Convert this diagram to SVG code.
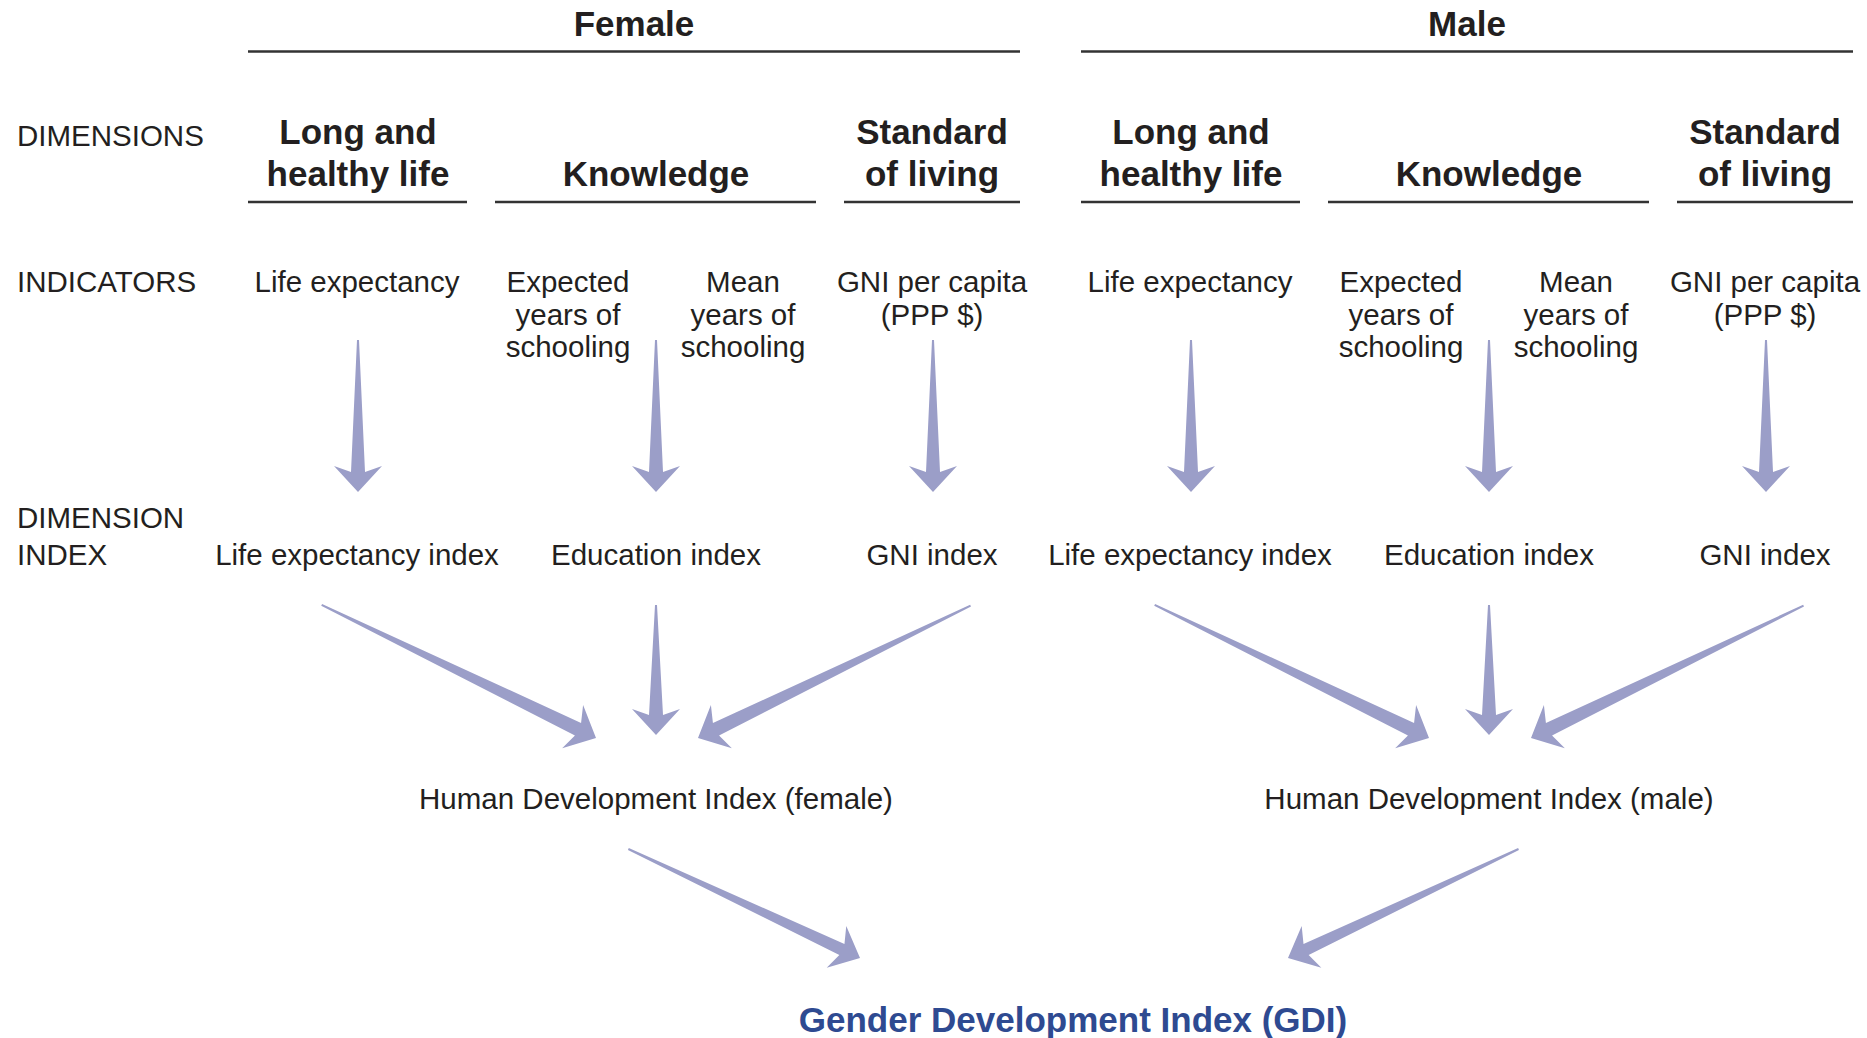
<svg xmlns="http://www.w3.org/2000/svg" width="1867" height="1038" viewBox="0 0 1867 1038">
<style>
  text { font-family: "Liberation Sans", Arial, sans-serif; fill: #231f20; }
  .lbl { font-size: 29.5px; }
  .side { font-size: 29.5px; }
  .hd { font-size: 35px; font-weight: bold; text-anchor: middle; }
  .c { text-anchor: middle; }
  .rule { stroke: #333; stroke-width: 2.5; fill: none; }
  .arr { fill: #9b9ec8; }
  .gdi { font-size: 35px; font-weight: bold; text-anchor: middle; fill: #2e4a91; }
</style>
<rect width="1867" height="1038" fill="#fff"/>

<!-- row labels -->
<g id="row-dimensions"><text class="side" x="17" y="146">DIMENSIONS</text></g>
<g id="row-indicators"><text class="side" x="17" y="292">INDICATORS</text></g>
<g id="row-dimension-index"><text class="side" x="17" y="528">DIMENSION</text><text class="side" x="17" y="565">INDEX</text></g>

<!-- Female -->
<g id="female-header"><text class="hd" x="634" y="36">Female</text><line class="rule" x1="248" y1="51.5" x2="1020" y2="51.5"/></g>
<g id="f-dim-life"><text class="hd" x="358" y="144">Long and</text><text class="hd" x="358" y="185.5">healthy life</text><line class="rule" x1="248" y1="202" x2="467" y2="202"/></g>
<g id="f-dim-knowledge"><text class="hd" x="656" y="185.5">Knowledge</text><line class="rule" x1="495" y1="202" x2="816" y2="202"/></g>
<g id="f-dim-living"><text class="hd" x="932" y="144">Standard</text><text class="hd" x="932" y="185.5">of living</text><line class="rule" x1="844" y1="202" x2="1020" y2="202"/></g>

<g id="f-ind-life"><text class="lbl c" x="357" y="292">Life expectancy</text></g>
<g id="f-ind-expected"><text class="lbl c" x="568" y="292">Expected</text><text class="lbl c" x="568" y="324.5">years of</text><text class="lbl c" x="568" y="357">schooling</text></g>
<g id="f-ind-mean"><text class="lbl c" x="743" y="292">Mean</text><text class="lbl c" x="743" y="324.5">years of</text><text class="lbl c" x="743" y="357">schooling</text></g>
<g id="f-ind-gni"><text class="lbl c" x="932" y="292">GNI per capita</text><text class="lbl c" x="932" y="324.5">(PPP $)</text></g>

<g id="f-idx-life"><text class="lbl c" x="357" y="565">Life expectancy index</text></g>
<g id="f-idx-edu"><text class="lbl c" x="656" y="565">Education index</text></g>
<g id="f-idx-gni"><text class="lbl c" x="932" y="565">GNI index</text></g>

<g id="f-hdi"><text class="lbl c" x="656" y="809">Human Development Index (female)</text></g>

<!-- Male -->
<g id="male-header"><text class="hd" x="1467" y="36">Male</text><line class="rule" x1="1081" y1="51.5" x2="1853" y2="51.5"/></g>
<g id="m-dim-life"><text class="hd" x="1191" y="144">Long and</text><text class="hd" x="1191" y="185.5">healthy life</text><line class="rule" x1="1081" y1="202" x2="1300" y2="202"/></g>
<g id="m-dim-knowledge"><text class="hd" x="1489" y="185.5">Knowledge</text><line class="rule" x1="1328" y1="202" x2="1649" y2="202"/></g>
<g id="m-dim-living"><text class="hd" x="1765" y="144">Standard</text><text class="hd" x="1765" y="185.5">of living</text><line class="rule" x1="1677" y1="202" x2="1853" y2="202"/></g>

<g id="m-ind-life"><text class="lbl c" x="1190" y="292">Life expectancy</text></g>
<g id="m-ind-expected"><text class="lbl c" x="1401" y="292">Expected</text><text class="lbl c" x="1401" y="324.5">years of</text><text class="lbl c" x="1401" y="357">schooling</text></g>
<g id="m-ind-mean"><text class="lbl c" x="1576" y="292">Mean</text><text class="lbl c" x="1576" y="324.5">years of</text><text class="lbl c" x="1576" y="357">schooling</text></g>
<g id="m-ind-gni"><text class="lbl c" x="1765" y="292">GNI per capita</text><text class="lbl c" x="1765" y="324.5">(PPP $)</text></g>

<g id="m-idx-life"><text class="lbl c" x="1190" y="565">Life expectancy index</text></g>
<g id="m-idx-edu"><text class="lbl c" x="1489" y="565">Education index</text></g>
<g id="m-idx-gni"><text class="lbl c" x="1765" y="565">GNI index</text></g>

<g id="m-hdi"><text class="lbl c" x="1489" y="809">Human Development Index (male)</text></g>

<g id="gdi"><text class="gdi" x="1073" y="1032">Gender Development Index (GDI)</text></g>

<!-- connectors -->
<g id="connectors">
  <path class="arr" transform="translate(358,492) rotate(90)" d="M-152,-1 L-20,-7 L-26,-24 L0,0 L-26,24 L-20,7 L-152,1 Z"/>
  <path class="arr" transform="translate(656,492) rotate(90)" d="M-152,-1 L-20,-7 L-26,-24 L0,0 L-26,24 L-20,7 L-152,1 Z"/>
  <path class="arr" transform="translate(933,492) rotate(90)" d="M-152,-1 L-20,-7 L-26,-24 L0,0 L-26,24 L-20,7 L-152,1 Z"/>
  <path class="arr" transform="translate(1191,492) rotate(90)" d="M-152,-1 L-20,-7 L-26,-24 L0,0 L-26,24 L-20,7 L-152,1 Z"/>
  <path class="arr" transform="translate(1489,492) rotate(90)" d="M-152,-1 L-20,-7 L-26,-24 L0,0 L-26,24 L-20,7 L-152,1 Z"/>
  <path class="arr" transform="translate(1766,492) rotate(90)" d="M-152,-1 L-20,-7 L-26,-24 L0,0 L-26,24 L-20,7 L-152,1 Z"/>

  <path class="arr" transform="translate(596,738) rotate(25.9)" d="M-305,-1 L-20,-7 L-26,-24 L0,0 L-26,24 L-20,7 L-305,1 Z"/>
  <path class="arr" transform="translate(656,735) rotate(90)" d="M-130,-1 L-20,-7 L-26,-24 L0,0 L-26,24 L-20,7 L-130,1 Z"/>
  <path class="arr" transform="translate(698,738) rotate(154.1)" d="M-303,-1 L-20,-7 L-26,-24 L0,0 L-26,24 L-20,7 L-303,1 Z"/>
  <path class="arr" transform="translate(1429,738) rotate(25.9)" d="M-305,-1 L-20,-7 L-26,-24 L0,0 L-26,24 L-20,7 L-305,1 Z"/>
  <path class="arr" transform="translate(1489,735) rotate(90)" d="M-130,-1 L-20,-7 L-26,-24 L0,0 L-26,24 L-20,7 L-130,1 Z"/>
  <path class="arr" transform="translate(1531,738) rotate(154.1)" d="M-303,-1 L-20,-7 L-26,-24 L0,0 L-26,24 L-20,7 L-303,1 Z"/>

  <path class="arr" transform="translate(860,958) rotate(25.2)" d="M-256,-1 L-20,-6 L-26,-23 L0,0 L-26,23 L-20,6 L-256,1 Z"/>
  <path class="arr" transform="translate(1288,958) rotate(154.7)" d="M-255,-1 L-20,-6 L-26,-23 L0,0 L-26,23 L-20,6 L-255,1 Z"/>
</g>
</svg>
